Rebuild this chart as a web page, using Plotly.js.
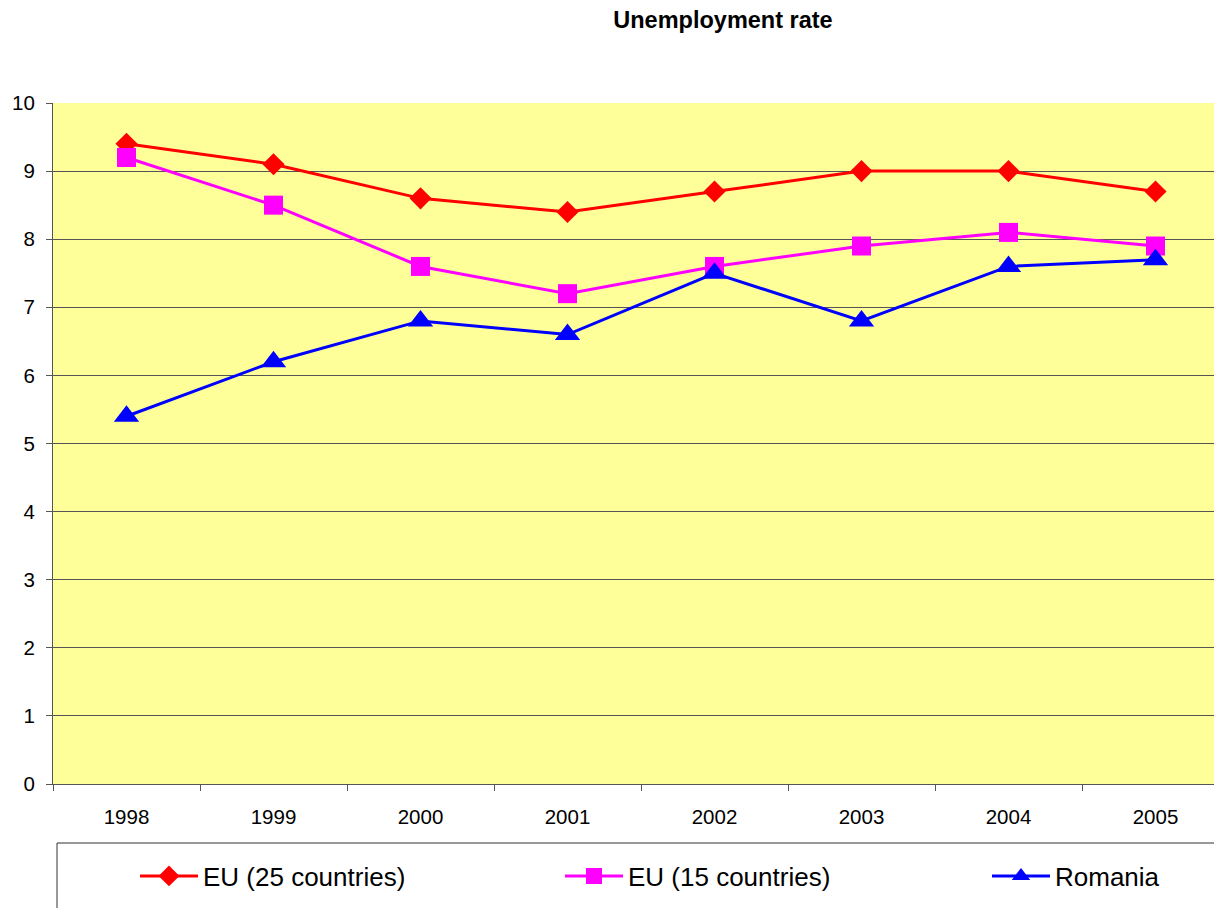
<!DOCTYPE html>
<html>
<head>
<meta charset="utf-8">
<script src="https://cdn.plot.ly/plotly-3.0.1.min.js"></script>
<style>html,body{margin:0;padding:0;background:#fff;}#chart{width:1214px;height:908px;}</style>
</head>
<body>
<div id="chart"></div>
<script>
const years = ['1998','1999','2000','2001','2002','2003','2004','2005'];
const eu25 = [9.4, 9.1, 8.6, 8.4, 8.7, 9.0, 9.0, 8.7];
const eu15 = [9.2, 8.5, 7.6, 7.2, 7.6, 7.9, 8.1, 7.9];
const romania = [5.4, 6.2, 6.8, 6.6, 7.5, 6.8, 7.6, 7.7];
const seriesNames = ['EU (25 countries)', 'EU (15 countries)', 'Romania'];

const FONT = 'Liberation Sans, Arial, sans-serif';
const L = 53, R = 0, T = 103, B = 124;
const W = 1214, H = 908;
const pw = W - L - R, ph = H - T - B;
const px2x = p => (p - L) / pw;
const py2y = p => (H - B - p) / ph;

const traces = [
  {x: years, y: eu25, name: seriesNames[0], type: 'scatter', mode: 'lines+markers',
   line: {color: '#FF0000', width: 3}, marker: {symbol: 'diamond', size: 17, color: '#FF0000'}, legend: 'legend'},
  {x: years, y: eu15, name: seriesNames[1], type: 'scatter', mode: 'lines+markers',
   line: {color: '#FF00FF', width: 3}, marker: {symbol: 'square', size: 19, color: '#FF00FF'}, legend: 'legend2'},
  {x: years, y: romania, name: seriesNames[2], type: 'scatter', mode: 'lines+markers',
   line: {color: '#0000FF', width: 3}, marker: {symbol: 'triangle-up', size: 22, color: '#0000FF'}, legend: 'legend3'}
];

function leg(xpx) {
  return {x: px2x(xpx), xanchor: 'left', y: py2y(876), yanchor: 'middle', orientation: 'h',
          bgcolor: 'rgba(0,0,0,0)', borderwidth: 0, itemwidth: 58,
          font: {family: FONT, size: 26, color: '#000'}};
}

const layout = {
  width: W, height: H,
  margin: {l: L, r: R, t: T, b: B, pad: 0},
  paper_bgcolor: '#FFFFFF',
  plot_bgcolor: '#FFFF99',
  title: {text: '<b>Unemployment rate</b>', font: {family: FONT, size: 23.5, color: '#000'},
          x: px2x(723), xref: 'paper', xanchor: 'center', y: 1 - 20 / H, yref: 'container', yanchor: 'middle'},
  showlegend: true,
  legend: leg(135),
  legend2: leg(560),
  legend3: leg(987),
  xaxis: {type: 'category', range: [-0.5, -0.5 + (W - L - R) / 147], tickson: 'boundaries',
          ticks: 'outside', ticklen: 6, tickcolor: '#555', showgrid: false, showline: true,
          linecolor: '#555', linewidth: 1, zeroline: false, ticklabelstandoff: 14,
          tickfont: {family: FONT, size: 20.5, color: '#000'}, fixedrange: true},
  yaxis: {range: [0, 10], dtick: 1, ticks: 'outside', ticklen: 6, tickcolor: '#555',
          showgrid: true, gridcolor: '#555', gridwidth: 1, showline: true, linecolor: '#555',
          zeroline: false, ticklabelstandoff: 7,
          tickfont: {family: FONT, size: 20.5, color: '#000'}, fixedrange: true},
  shapes: [
    {type: 'rect', xref: 'paper', yref: 'paper', x0: px2x(57), x1: px2x(1230), y0: py2y(843), y1: py2y(930),
     line: {color: '#333', width: 1}, fillcolor: 'rgba(0,0,0,0)', layer: 'above'}
  ]
};

Plotly.newPlot('chart', traces, layout, {displayModeBar: false, staticPlot: true});
</script>
</body>
</html>
